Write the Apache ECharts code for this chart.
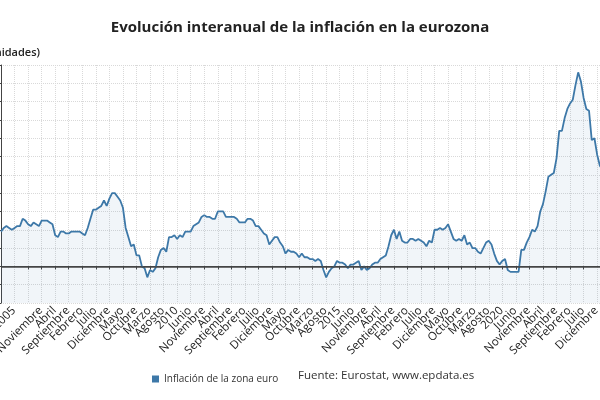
<!DOCTYPE html>
<html lang="es">
<head>
<meta charset="utf-8">
<title>Evolución interanual de la inflación en la eurozona</title>
<script src="https://cdn.jsdelivr.net/npm/echarts@6/dist/echarts.min.js"></script>
<style>
    html, body { margin: 0; padding: 0; background: #fff; }
    #main { width: 600px; height: 400px; }
</style>
</head>
<body>
<div id="main"></div>
<script type="text/javascript">
    // nombres de los meses para las etiquetas del eje
    var meses = ['Enero', 'Febrero', 'Marzo', 'Abril', 'Mayo', 'Junio',
        'Julio', 'Agosto', 'Septiembre', 'Octubre', 'Noviembre', 'Diciembre'];
    var anioInicio = 2005;

    // tasa interanual (%), enero 2005 - septiembre 2023
    var inflacion = [
        1.9, 2.1, 2.2, 2.1, 2.0, 2.1, 2.2, 2.2, 2.6, 2.5, 2.3, 2.2,
        2.4, 2.3, 2.2, 2.5, 2.5, 2.5, 2.4, 2.3, 1.7, 1.6, 1.9, 1.9,
        1.8, 1.8, 1.9, 1.9, 1.9, 1.9, 1.8, 1.7, 2.1, 2.6, 3.1, 3.1,
        3.2, 3.3, 3.6, 3.3, 3.7, 4.0, 4.0, 3.8, 3.6, 3.2, 2.1, 1.6,
        1.1, 1.2, 0.6, 0.6, 0.0, -0.1, -0.6, -0.2, -0.3, -0.1, 0.5, 0.9,
        1.0, 0.8, 1.6, 1.6, 1.7, 1.5, 1.7, 1.6, 1.9, 1.9, 1.9, 2.2,
        2.3, 2.4, 2.7, 2.8, 2.7, 2.7, 2.6, 2.6, 3.0, 3.0, 3.0, 2.7,
        2.7, 2.7, 2.7, 2.6, 2.4, 2.4, 2.4, 2.6, 2.6, 2.5, 2.2, 2.2,
        2.0, 1.8, 1.7, 1.2, 1.4, 1.6, 1.6, 1.3, 1.1, 0.7, 0.9, 0.8,
        0.8, 0.7, 0.5, 0.7, 0.5, 0.5, 0.4, 0.4, 0.3, 0.4, 0.3, -0.2,
        -0.6, -0.3, -0.1, 0.0, 0.3, 0.2, 0.2, 0.1, -0.1, 0.1, 0.1, 0.2,
        0.3, -0.2, 0.0, -0.2, -0.1, 0.1, 0.2, 0.2, 0.4, 0.5, 0.6, 1.1,
        1.7, 2.0, 1.5, 1.9, 1.4, 1.3, 1.3, 1.5, 1.5, 1.4, 1.5, 1.4,
        1.3, 1.1, 1.4, 1.3, 2.0, 2.0, 2.1, 2.0, 2.1, 2.3, 1.9, 1.5,
        1.4, 1.5, 1.4, 1.7, 1.2, 1.3, 1.0, 1.0, 0.8, 0.7, 1.0, 1.3,
        1.4, 1.2, 0.7, 0.3, 0.1, 0.3, 0.4, -0.2, -0.3, -0.3, -0.3, -0.3,
        0.9, 0.9, 1.3, 1.6, 2.0, 1.9, 2.2, 3.0, 3.4, 4.1, 4.9, 5.0,
        5.1, 5.9, 7.4, 7.4, 8.1, 8.6, 8.9, 9.1, 9.9, 10.6, 10.1, 9.2,
        8.6, 8.5, 6.9, 7.0, 6.1, 5.5, 5.3, 5.2, 4.3
    ];

    // categorias "anio-mes"
    var categorias = [];
    for (var i = 0; i < inflacion.length; i++) {
        categorias.push((anioInicio + Math.floor(i / 12)) + '-' + (i % 12 + 1));
    }

    var fuente = "'Open Sans', sans-serif";
    var myChart = echarts.init(document.getElementById('main'));
    var option = {
        animation: false,
        textStyle: { fontFamily: fuente },
        title: {
            text: 'Evolución interanual de la inflación en la eurozona',
            left: 'center',
            top: 15,
            textStyle: { fontSize: 15, fontWeight: 'bold', color: '#222', fontFamily: fuente }
        },
        legend: {
            data: ['Inflación de la zona euro'],
            left: 147,
            top: 369,
            icon: 'rect',
            itemWidth: 7,
            itemHeight: 7,
            itemGap: 5,
            textStyle: { fontSize: 10, color: '#333', fontFamily: fuente }
        },
        graphic: [
            {
                type: 'text',
                x: 40,
                y: 53,
                style: {
                    text: '(En unidades)',
                    align: 'right',
                    verticalAlign: 'middle',
                    font: "600 11px 'Open Sans'",
                    fill: '#222'
                }
            },
            {
                type: 'text',
                x: 298,
                y: 376,
                style: {
                    text: 'Fuente: Eurostat, www.epdata.es',
                    verticalAlign: 'middle',
                    font: "11.5px 'Open Sans'",
                    fill: '#333'
                }
            }
        ],
        grid: {
            left: 1,
            right: -8,
            top: 65,
            bottom: 97,
            containLabel: false,
            outerBoundsMode: 'none'
        },
        xAxis: {
            type: 'category',
            boundaryGap: false,
            data: categorias,
            axisLine: { lineStyle: { color: '#444', width: 1 } },
            axisTick: { show: true, interval: 4, length: 3, lineStyle: { color: '#444' } },
            axisLabel: {
                interval: 4,
                rotate: 45,
                showMinLabel: true,
                align: 'right',
                verticalAlign: 'top',
                padding: [12, 0, 0, 0],
                margin: -7,
                fontSize: 11.5,
                color: '#222',
                fontFamily: fuente,
                formatter: function (value) {
                    var p = value.split('-');
                    return p[1] === '1' ? p[0] : meses[Number(p[1]) - 1];
                }
            },
            splitLine: {
                show: true,
                interval: 4,
                lineStyle: { color: '#d9d9d9', type: 'dotted' }
            }
        },
        yAxis: {
            type: 'value',
            min: -2,
            max: 11,
            interval: 1,
            axisLine: { show: true, lineStyle: { color: '#444' } },
            axisTick: { show: true, length: 4, lineStyle: { color: '#444' } },
            axisLabel: { show: false },
            splitLine: { lineStyle: { color: '#d9d9d9', type: 'dotted' } }
        },
        series: [
            {
                name: 'Inflación de la zona euro',
                type: 'line',
                data: inflacion,
                symbol: 'none',
                color: '#3d78a8',
                lineStyle: { width: 1.8, color: '#3d78a8' },
                areaStyle: { color: 'rgba(61,120,168,0.1)', origin: 'start' },
                markLine: {
                    silent: true,
                    symbol: ['none', 'none'],
                    label: { show: false },
                    lineStyle: { color: '#444', type: 'solid', width: 1.5 },
                    data: [{ yAxis: 0 }]
                }
            }
        ]
    };
    myChart.setOption(option);
</script>
</body>
</html>
